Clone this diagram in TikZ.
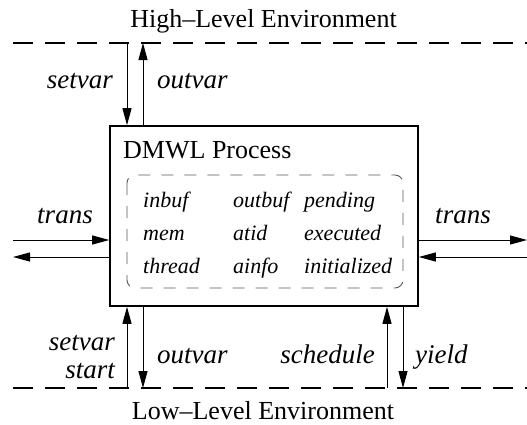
\documentclass[tikz,border=0pt]{standalone}
\usepackage{fontspec}
\setmainfont{Liberation Serif}
\usepackage{tikz}
\usetikzlibrary{positioning,calc,arrows.meta}

\begin{document}
\begin{tikzpicture}[x=1pt,y=-1pt,
    arr/.style={line width=1pt, -{Triangle[length=17pt,width=9pt]}},
    envline/.style={line width=1.4pt, dash pattern=on 20pt off 12pt},
    lbl/.style={inner sep=0pt, font=\fontsize{27}{30}\selectfont\itshape},
    var/.style={inner sep=0pt, anchor=base west, font=\fontsize{22}{26}\selectfont\itshape}]
    \useasboundingbox (0,0) rectangle (527,424);

    % Environments
    \node[inner sep=0pt, anchor=base, font=\fontsize{26}{30}\selectfont] (high) at (263.5,27) {High--Level Environment};
    \node[inner sep=0pt, anchor=base, font=\fontsize{26}{30}\selectfont] (low) at (263,419.5) {Low--Level Environment};
    \coordinate (hl) at (13,43);
    \coordinate (hr) at (527,43);
    \coordinate (ll) at (13,388);
    \coordinate (lr) at (527,388);
    \draw[envline] (hl) -- (hr);
    \draw[envline] (ll) -- (lr);

    % Process
    \node[draw, line width=1.6pt, minimum width=308pt, minimum height=180pt] (proc) at (264,216) {};
    \node[inner sep=0pt, anchor=base west, font=\fontsize{26}{30}\selectfont] (title) at (123,158) {DMWL Process};
    \draw[black!65, line width=0.9pt, dash pattern=on 12pt off 11pt, rounded corners=8pt] (127,175) rectangle (403,288);

    % State variables
    \node[var] (inbuf) at (143,207) {inbuf};
    \node[var] (outbuf) at (233,207) {outbuf};
    \node[var] (pending) at (304,207) {pending};
    \node[var] (mem) at (143,240) {mem};
    \node[var] (atid) at (233,240) {atid};
    \node[var] (executed) at (304,240) {executed};
    \node[var] (thread) at (143,273) {thread};
    \node[var] (ainfo) at (233,273) {ainfo};
    \node[var] (initialized) at (304,273) {initialized};

    % High-level actions
    \coordinate (t1) at (127,43);
    \coordinate (t2) at (143,43);
    \draw[arr] (t1) -- (t1 |- proc.north);
    \draw[arr] (t2 |- proc.north) -- (t2);
    \node[lbl, anchor=base east] (hsetvar) at (113,88) {setvar};
    \node[lbl, anchor=base west] (houtvar) at (157,88) {outvar};

    % Transitions
    \coordinate (l1) at (13,240);
    \coordinate (l2) at (13,257);
    \coordinate (r1) at (527,240);
    \coordinate (r2) at (527,257);
    \draw[arr] (l1) -- (l1 -| proc.west);
    \draw[arr] (l2 -| proc.west) -- (l2);
    \draw[arr] (r1 -| proc.east) -- (r1);
    \draw[arr] (r2) -- (r2 -| proc.east);
    \node[lbl, anchor=base] (ltrans) at (65,223) {trans};
    \node[lbl, anchor=base] (rtrans) at (463,223) {trans};

    % Low-level actions
    \coordinate (b1) at (127,388);
    \coordinate (b2) at (143,388);
    \coordinate (b3) at (387,388);
    \coordinate (b4) at (403,388);
    \draw[arr] (b1) -- (b1 |- proc.south);
    \draw[arr] (b2 |- proc.south) -- (b2);
    \draw[arr] (b3) -- (b3 |- proc.south);
    \draw[arr] (b4 |- proc.south) -- (b4);
    \node[lbl, anchor=base east] (lsetvar) at (115,350) {setvar};
    \node[lbl, anchor=base east] (lstart) at (115,378) {start};
    \node[lbl, anchor=base west] (loutvar) at (157,363) {outvar};
    \node[lbl, anchor=base east] (schedule) at (375,363) {schedule};
    \node[lbl, anchor=base west] (yield) at (415,363) {yield};
\end{tikzpicture}
\end{document}
